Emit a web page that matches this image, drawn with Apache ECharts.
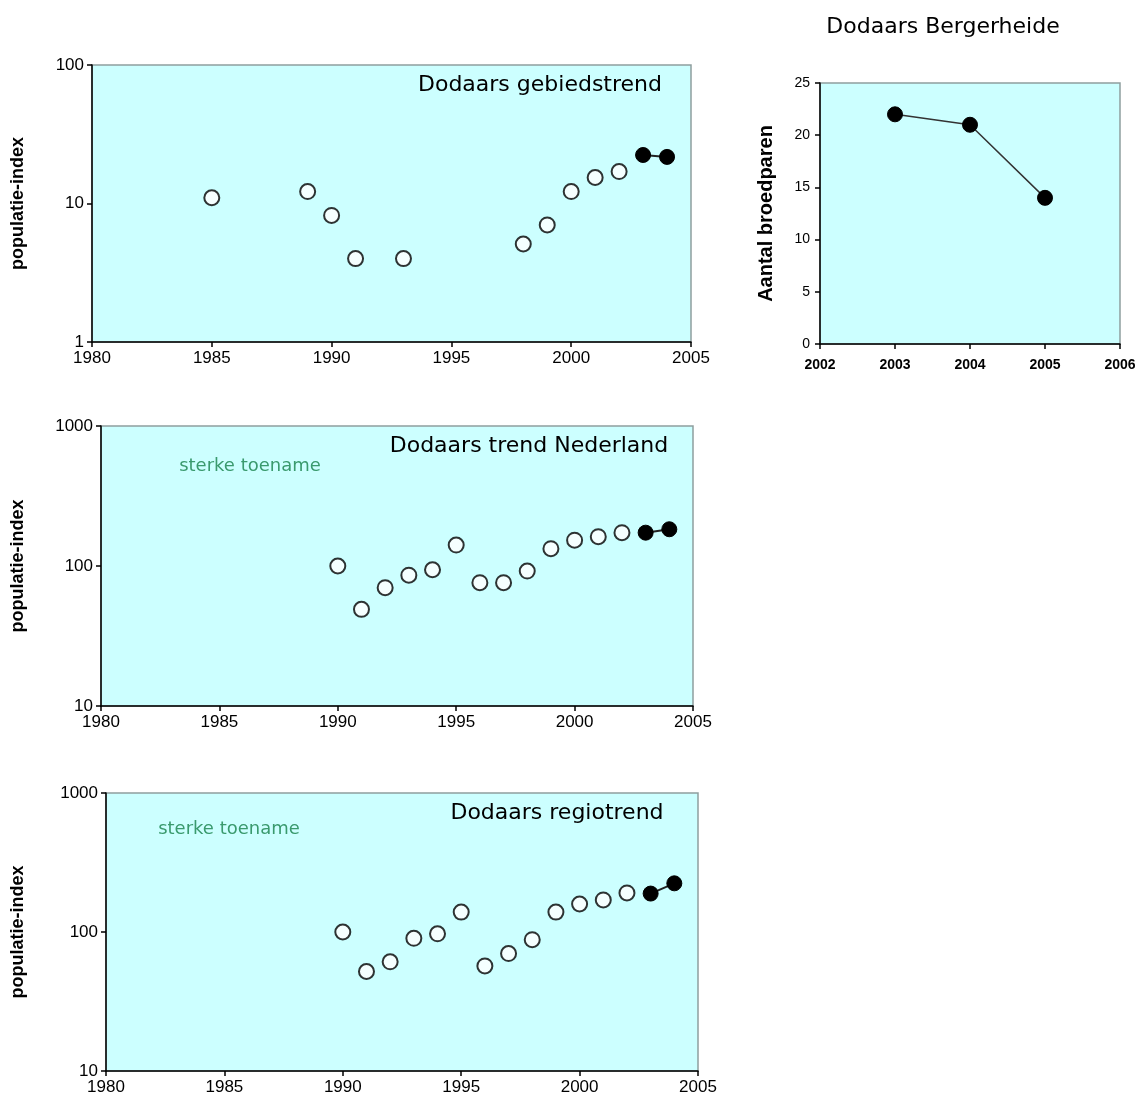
<!DOCTYPE html>
<html>
<head>
<meta charset="utf-8">
<script src="https://cdn.jsdelivr.net/npm/echarts@6/dist/echarts.min.js"></script>
<style>
html,body{margin:0;padding:0;background:#fff;}
#c{width:1142px;height:1115px;}
</style>
</head>
<body>
<div id="c"></div>
<script>
// Panel 1: Dodaars gebiedstrend
const gebiedYearsOpen = [1985, 1989, 1990, 1991, 1993, 1998, 1999, 2000, 2001, 2002];
const gebiedOpen = [11.0, 12.2, 8.2, 4.0, 4.0, 5.1, 7.0, 12.2, 15.4, 17.0];
const gebiedYearsFilled = [2003, 2004];
const gebiedFilled = [22.4, 21.7];

// Panel 2: Dodaars trend Nederland
const nlYearsOpen = [1990, 1991, 1992, 1993, 1994, 1995, 1996, 1997, 1998, 1999, 2000, 2001, 2002];
const nlOpen = [100, 49, 70, 86, 94, 141, 76, 76, 92, 133, 153, 162, 173];
const nlYearsFilled = [2003, 2004];
const nlFilled = [173, 183];

// Panel 3: Dodaars regiotrend
const regioYearsOpen = [1990, 1991, 1992, 1993, 1994, 1995, 1996, 1997, 1998, 1999, 2000, 2001, 2002];
const regioOpen = [100, 52, 61, 90, 97, 139, 57, 70, 88, 139, 159, 170, 191];
const regioYearsFilled = [2003, 2004];
const regioFilled = [189, 224];

// Panel 4: Dodaars Bergerheide
const bergYears = [2003, 2004, 2005];
const bergPairs = [22, 21, 14];

const FONT = '"Liberation Sans", Arial, sans-serif';
const BG = '#CCFFFF';

function zip(xs, ys) { return xs.map((x, i) => [x, ys[i]]); }
const plain = v => String(Math.round(v));

const grids = [
  {left: 92, top: 65, width: 599, height: 277},
  {left: 101, top: 426, width: 592, height: 280},
  {left: 106, top: 793, width: 592, height: 278},
  {left: 820, top: 83, width: 300, height: 261}
];

function xAxisDef(i, min, max, interval) {
  return {
    type: 'value', gridIndex: i, min: min, max: max, interval: interval,
    axisLine: {show: true, onZero: false, lineStyle: {color: '#000', width: 1.5}},
    axisTick: {show: true, length: 5, inside: false, lineStyle: {color: '#000', width: 1.5}},
    axisLabel: {color: '#000', fontFamily: FONT, fontSize: i === 3 ? 14 : 17, margin: i === 3 ? 14 : 8,
      fontWeight: i === 3 ? 'bold' : 'normal', formatter: plain},
    splitLine: {show: false}
  };
}
function yLogDef(i, min, max, gap) {
  return {
    type: 'log', logBase: 10, gridIndex: i, min: min, max: max,
    name: 'populatie-index', nameLocation: 'middle', nameGap: gap,
    nameTextStyle: {fontFamily: FONT, fontSize: 18, fontWeight: 'bold', color: '#000'},
    axisLine: {show: true, lineStyle: {color: '#000', width: 1.5}},
    axisTick: {show: true, length: 5, lineStyle: {color: '#000', width: 1.5}},
    axisLabel: {color: '#000', fontFamily: FONT, fontSize: 17, margin: 8, formatter: plain},
    minorTick: {show: false},
    splitLine: {show: false}
  };
}

const openStyle = {color: '#fff', borderColor: '#000', borderWidth: 2};
const filledStyle = {color: '#000', borderColor: '#000', borderWidth: 1};

function openSeries(i, xs, ys) {
  return {type: 'scatter', xAxisIndex: i, yAxisIndex: i, data: zip(xs, ys),
    symbol: 'circle', symbolSize: 15, itemStyle: openStyle, silent: true, z: 3};
}
function filledSeries(i, xs, ys) {
  return {type: 'line', xAxisIndex: i, yAxisIndex: i, data: zip(xs, ys),
    symbol: 'circle', symbolSize: 15, showSymbol: true, itemStyle: filledStyle,
    lineStyle: {color: '#222', width: 2}, silent: true, z: 4};
}

function txt(x, y, text, opts) {
  return {type: 'text', x: x, y: y, silent: true, z: 100,
    style: Object.assign({text: text, fill: '#000', font: '22px "DejaVu Sans", sans-serif', textAlign: 'center', textVerticalAlign: 'middle'}, opts || {})};
}

const option = {
  animation: false,
  backgroundColor: '#fff',
  grid: grids.map(g => Object.assign({show: true, backgroundColor: BG, borderColor: '#8e9e9e', borderWidth: 1.5, containLabel: false}, g)),
  xAxis: [
    xAxisDef(0, 1980, 2005, 5),
    xAxisDef(1, 1980, 2005, 5),
    xAxisDef(2, 1980, 2005, 5),
    xAxisDef(3, 2002, 2006, 1)
  ],
  yAxis: [
    yLogDef(0, 1, 100, 65),
    yLogDef(1, 10, 1000, 74),
    yLogDef(2, 10, 1000, 79),
    {
      type: 'value', gridIndex: 3, min: 0, max: 25, interval: 5,
      name: 'Aantal broedparen', nameLocation: 'middle', nameGap: 44,
      nameTextStyle: {fontFamily: FONT, fontSize: 20, fontWeight: 'bold', color: '#000'},
      axisLine: {show: true, lineStyle: {color: '#000', width: 1.5}},
      axisTick: {show: true, length: 5, lineStyle: {color: '#000', width: 1.5}},
      axisLabel: {color: '#000', fontFamily: FONT, fontSize: 14, margin: 10},
      splitLine: {show: false}
    }
  ],
  series: [
    openSeries(0, gebiedYearsOpen, gebiedOpen),
    filledSeries(0, gebiedYearsFilled, gebiedFilled),
    openSeries(1, nlYearsOpen, nlOpen),
    filledSeries(1, nlYearsFilled, nlFilled),
    openSeries(2, regioYearsOpen, regioOpen),
    filledSeries(2, regioYearsFilled, regioFilled),
    {type: 'line', xAxisIndex: 3, yAxisIndex: 3, data: zip(bergYears, bergPairs),
      symbol: 'circle', symbolSize: 15, itemStyle: filledStyle,
      lineStyle: {color: '#333', width: 1.5}, silent: true, z: 4}
  ],
  graphic: [
    txt(540, 85, 'Dodaars gebiedstrend'),
    txt(529, 446, 'Dodaars trend Nederland'),
    txt(557, 813, 'Dodaars regiotrend'),
    txt(943, 27, 'Dodaars Bergerheide'),
    txt(250, 466, 'sterke toename', {fill: '#3a9a6e', font: '18px "DejaVu Sans", sans-serif'}),
    txt(229, 829, 'sterke toename', {fill: '#3a9a6e', font: '18px "DejaVu Sans", sans-serif'})
  ]
};

const chart = echarts.init(document.getElementById('c'), null, {renderer: 'canvas'});
chart.setOption(option);
</script>
</body>
</html>
